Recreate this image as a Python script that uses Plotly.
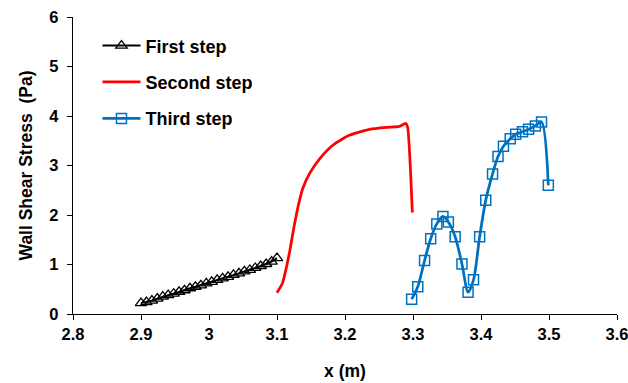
import plotly.graph_objects as go

# First step
x1 = [2.900, 2.908, 2.916, 2.924, 2.932, 2.940, 2.948, 2.956, 2.964, 2.972, 2.980, 2.988, 2.996,
      3.004, 3.012, 3.020, 3.028, 3.036, 3.044, 3.052, 3.060, 3.068, 3.076, 3.084, 3.092, 3.100]
y1 = [0.22, 0.24, 0.27, 0.31, 0.35, 0.38, 0.41, 0.45, 0.48, 0.52, 0.55, 0.58, 0.62,
      0.65, 0.69, 0.72, 0.75, 0.79, 0.82, 0.86, 0.89, 0.93, 0.97, 1.01, 1.06, 1.13]

# Second step
x2 = [3.100, 3.108, 3.113, 3.119, 3.125, 3.131, 3.138, 3.148, 3.163, 3.182, 3.206,
      3.236, 3.261, 3.280, 3.289, 3.292, 3.299]
y2 = [0.43, 0.62, 0.89, 1.29, 1.76, 2.17, 2.54, 2.84, 3.14, 3.41, 3.61,
      3.73, 3.77, 3.79, 3.85, 3.78, 2.05]

# Third step
x3 = [3.298, 3.307, 3.317, 3.326, 3.335, 3.344, 3.352, 3.362, 3.372, 3.381, 3.389, 3.398,
      3.407, 3.417, 3.425, 3.433, 3.443, 3.451, 3.461, 3.470, 3.480, 3.489, 3.499]
y3 = [0.30, 0.55, 1.08, 1.52, 1.82, 1.97, 1.86, 1.56, 1.01, 0.44, 0.69, 1.56,
      2.30, 2.83, 3.18, 3.39, 3.54, 3.63, 3.68, 3.73, 3.80, 3.88, 2.60]

x_ticks = [2.8, 2.9, 3.0, 3.1, 3.2, 3.3, 3.4, 3.5, 3.6]
x_tick_labels = ["2.8", "2.9", "3", "3.1", "3.2", "3.3", "3.4", "3.5", "3.6"]
y_ticks = [0, 1, 2, 3, 4, 5, 6]

FONT = "Arial, Liberation Sans, sans-serif"

fig = go.Figure()
fig.add_trace(go.Scatter(
    x=x1, y=y1, mode="lines+markers", name="<b>First step</b>", legendgroup="a",
    line=dict(color="black", width=2),
    marker=dict(symbol="triangle-up-open", size=10, color="black", line=dict(width=1.3)),
))
fig.add_trace(go.Scatter(
    x=x2, y=y2, mode="lines", name="<b>Second step</b>", legendgroup="b",
    line=dict(color="#FF0000", width=2.75, shape="spline", smoothing=0.5),
))
fig.add_trace(go.Scatter(
    x=x3, y=y3, mode="lines+markers", name="<b>Third step</b>", legendgroup="c",
    line=dict(color="#0070C0", width=2.75, shape="spline", smoothing=0.8),
    marker=dict(symbol="square-open", size=10, color="#0070C0", line=dict(width=1.5)),
))

fig.update_layout(
    width=628, height=383,
    margin=dict(l=73, r=11, t=17, b=69),
    plot_bgcolor="white", paper_bgcolor="white",
    font=dict(family=FONT, color="black"),
    showlegend=True,
    legend=dict(x=0.045, y=0.965, xanchor="left", yanchor="top",
                font=dict(size=18, family=FONT, color="black"),
                bgcolor="rgba(0,0,0,0)", tracegroupgap=10, itemwidth=38),
    xaxis=dict(range=[2.8, 3.6], tickvals=x_ticks, ticktext=[f"<b>{t}</b>" for t in x_tick_labels],
               automargin=False, ticklabeloverflow="allow",
               showgrid=False, zeroline=False, showline=True, linecolor="black", linewidth=1.3,
               ticks="outside", ticklen=5, tickcolor="black", tickwidth=1.3,
               tickfont=dict(size=16.5, family=FONT),
               title=dict(text="<b>x (m)</b>", font=dict(size=17.5, family=FONT), standoff=22)),
    yaxis=dict(range=[0, 6], tickvals=y_ticks, ticktext=[f"<b>{t}</b>" for t in y_ticks],
               automargin=False, ticklabelstandoff=5,
               showgrid=False, zeroline=False, showline=True, linecolor="black", linewidth=1.3,
               ticks="outside", ticklen=5, tickcolor="black", tickwidth=1.3,
               tickfont=dict(size=16.5, family=FONT),
               title=dict(text="<b>Wall Shear Stress  (Pa)</b>", font=dict(size=17.5, family=FONT), standoff=12)),
)

fig.write_html("out.html", config={"displayModeBar": False},
               post_script="document.body.style.margin='0';")
